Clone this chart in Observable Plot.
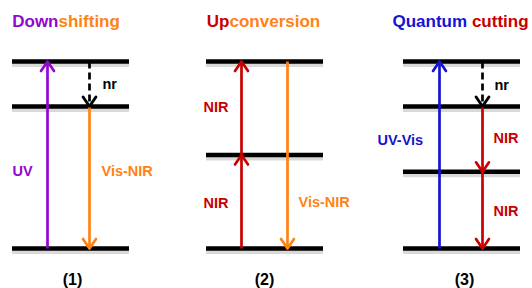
<!DOCTYPE html>
<html><head><meta charset="utf-8">
<script src="https://cdn.jsdelivr.net/npm/d3@7"></script>
<script src="https://cdn.jsdelivr.net/npm/@observablehq/plot@0.6"></script>
<style>body{margin:0;background:#fff}</style>
</head><body><div id="chart"></div>
<script>
// ---- data (energies in arbitrary units, x in drawing units) ----
const palette = {purple: "#9206cf", orange: "#ff8214", red: "#c80000", blue: "#1414d2", black: "#000000"};

const panelNames = ["(1)", "(2)", "(3)"];
const panelCenter = [72, 264, 464];
const panelLeft = [12, 206, 403];
const panelRight = [129, 323, 520];
const levelEnergies = [[0, 0.76, 1], [0, 0.5, 1], [0, 0.41, 0.76, 1]];

const titleFirst = ["Down", "Up", "Quantum"];
const titleSecond = ["shifting", "conversion", "cutting"];
const titleFirstColor = ["purple", "red", "blue"];
const titleSecondColor = ["orange", "orange", "red"];
const titleSplit = [58, 229, 469];
const titleGap = [0, 0, 2.4];
const titleEnergy = 1.212;
const numberEnergy = -0.166;

const transX = [47, 89, 89, 241, 241, 287, 439, 482, 482, 482];
const transFrom = [0, 1, 0.76, 0, 0.5, 1, 0, 1, 0.76, 0.41];
const transTo = [1, 0.76, 0, 0.5, 1, 0, 1, 0.76, 0.41, 0];
const transColor = ["purple", "black", "orange", "red", "red", "orange", "blue", "black", "red", "red"];
const transDashed = [false, true, false, false, false, false, false, true, false, false];

const labelText = ["UV", "Vis-NIR", "nr", "NIR", "NIR", "Vis-NIR", "UV-Vis", "NIR", "NIR", "nr"];
const labelX = [12, 101, 102, 203, 203, 298, 377, 493, 493, 494];
const labelEnergy = [0.41, 0.41, 0.877, 0.754, 0.24, 0.246, 0.578, 0.588, 0.198, 0.872];
const labelColor = ["purple", "orange", "black", "red", "red", "orange", "blue", "red", "red", "black"];

// ---- tables ----
const levels = levelEnergies.flatMap((es, p) => es.map(e => ({e, x1: panelLeft[p], x2: panelRight[p]})));
const trans = transX.map((x, i) => ({x, from: transFrom[i], to: transTo[i], color: palette[transColor[i]], dashed: transDashed[i]}));
const labels = labelText.map((t, i) => ({t, x: labelX[i], e: labelEnergy[i], color: palette[labelColor[i]]}));
const titles = titleFirst.map((t, i) => ({a: t, b: titleSecond[i], ca: palette[titleFirstColor[i]], cb: palette[titleSecondColor[i]],
  xa: titleSplit[i] - titleGap[i], xb: titleSplit[i] + titleGap[i], e: titleEnergy}));
const numbers = panelNames.map((t, i) => ({t, x: panelCenter[i], e: numberEnergy}));

const chevronUp = {draw(c) { c.moveTo(-6.5, 9.5); c.lineTo(0, 0); c.lineTo(6.5, 9.5); }};
const chevronDown = {draw(c) { c.moveTo(-6.5, -9.5); c.lineTo(0, 0); c.lineTo(6.5, -9.5); }};

const SW = 2.7;
const font = "'Liberation Sans', Arial, sans-serif";

const chart = Plot.plot({
  width: 532, height: 288, margin: 0,
  x: {domain: [0, 532], range: [0, 532], axis: null},
  y: {domain: [0, 1], range: [248, 61], axis: null},
  color: {type: "identity"},
  style: {fontFamily: font, background: "white"},
  marks: [
    Plot.ruleY(levels, {y: "e", x1: "x1", x2: "x2", stroke: "#000", strokeOpacity: 0.15, strokeWidth: 6, dy: 2.5}),
    Plot.ruleY(levels, {y: "e", x1: "x1", x2: "x2", stroke: "#000", strokeWidth: 4.5}),
    Plot.link(trans.filter(d => !d.dashed), {x1: "x", x2: "x", y1: "from", y2: "to", stroke: "color", strokeWidth: SW}),
    Plot.link(trans.filter(d => d.dashed), {x1: "x", x2: "x", y1: "from", y2: "to", stroke: "color", strokeWidth: SW, strokeDasharray: "7,4"}),
    Plot.dot(trans.filter(d => d.to > d.from), {x: "x", y: "to", symbol: chevronUp, stroke: "color", fill: "none", strokeWidth: SW, strokeLinejoin: "round", strokeLinecap: "round"}),
    Plot.dot(trans.filter(d => d.to < d.from), {x: "x", y: "to", symbol: chevronDown, stroke: "color", fill: "none", strokeWidth: SW, strokeLinejoin: "round", strokeLinecap: "round"}),
    Plot.text(labels, {x: "x", y: "e", text: "t", fill: "color", textAnchor: "start", fontWeight: "bold", fontSize: 14.5}),
    Plot.text(titles, {x: "xa", y: "e", text: "a", fill: "ca", textAnchor: "end", fontWeight: "bold", fontSize: 17}),
    Plot.text(titles, {x: "xb", y: "e", text: "b", fill: "cb", textAnchor: "start", fontWeight: "bold", fontSize: 17}),
    Plot.text(numbers, {x: "x", y: "e", text: "t", fill: "#000", fontWeight: "bold", fontSize: 16})
  ]
});
document.getElementById("chart").append(chart);
</script></body></html>
